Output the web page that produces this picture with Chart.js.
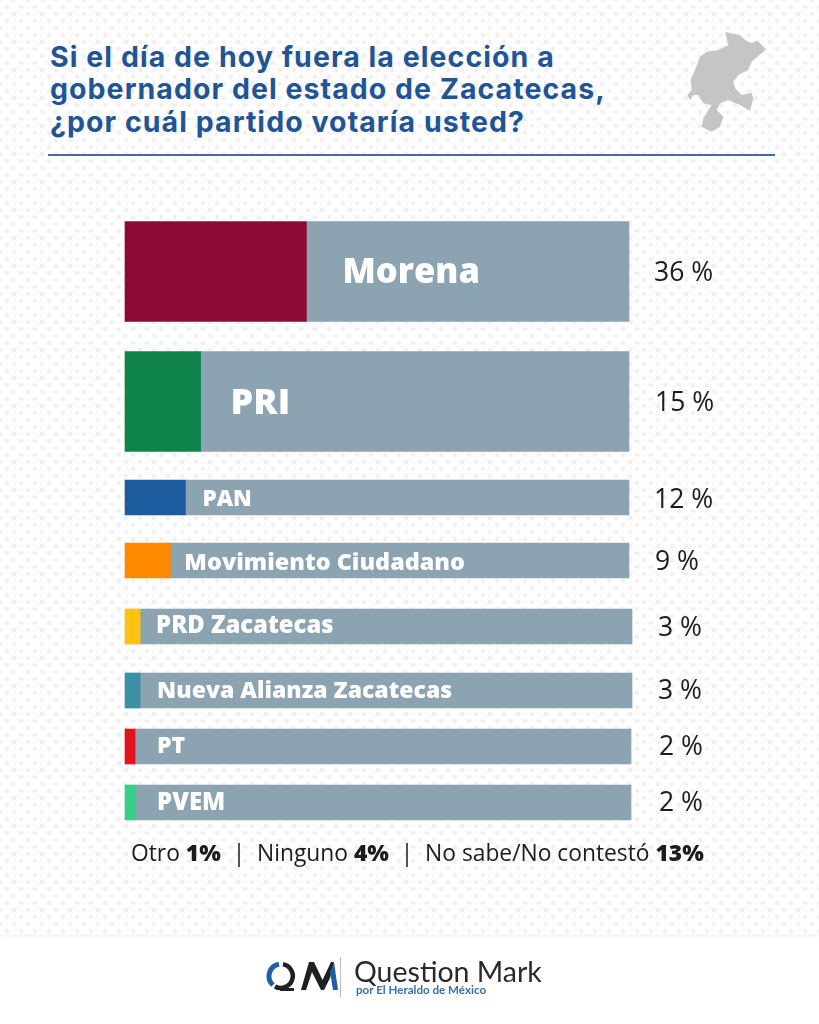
<!DOCTYPE html>
<html lang="es">
<head>
<meta charset="utf-8">
<title>Zacatecas</title>
<script src="https://cdn.jsdelivr.net/npm/chart.js@4"></script>
<style>
  html,body{margin:0;padding:0;background:#fff}
  #page{position:relative;width:819px;height:1024px;overflow:hidden;background:#fff;font-family:"Open Sans",sans-serif}
  #bg{position:absolute;left:0;top:0;width:819px;height:934px;background-color:#fdfdfd;
    background-image:radial-gradient(circle,#f0f0f0 0,#f0f0f0 1.6px,transparent 2.6px),radial-gradient(circle,#f0f0f0 0,#f0f0f0 1.6px,transparent 2.6px);
    background-size:14px 14px;background-position:0 0,7px 7px;box-shadow:0 2px 3px rgba(0,0,0,.05)}
  #title{position:absolute;left:50px;top:41px;margin:0;color:#1f5596;font:700 28.5px/32.3px Inter,sans-serif;letter-spacing:1.05px;white-space:nowrap}
  #rule{position:absolute;left:48px;top:154px;width:727px;height:2px;background:#3f6f9c}
  #map{position:absolute;left:0;top:0}
  #cv{position:absolute;left:0;top:0}
  #others{position:absolute;left:131px;top:840px;color:#1c1c1c;font:400 22.8px/26px "Open Sans",sans-serif;white-space:pre}
  #others b{font-weight:800}
  #logo{position:absolute;left:0;top:0}
  #qm1{position:absolute;left:354px;top:954px;color:#2a2a2e;font:400 28.5px/34px Lato,sans-serif;white-space:nowrap}
  #qm2{position:absolute;left:356px;top:983px;color:#3b6ea8;font:700 11.6px/14px Lato,sans-serif;white-space:nowrap}
</style>
</head>
<body>
<div id="page">
  <div id="bg"></div>
  <h1 id="title">Si el día de hoy fuera la elección a<br>gobernador del estado de Zacatecas,<br>¿por cuál partido votaría usted?</h1>
  <div id="rule"></div>
  <svg id="map" width="819" height="160" viewBox="0 0 819 160">
    <polygon transform="translate(670 20) scale(.3333)" fill="#c3c5c7" points="165,35 190,42 210,45 225,60 245,70 262,62 288,88 262,110 245,125 235,150 205,165 190,185 195,205 215,225 245,218 250,235 240,272 210,255 175,240 150,250 140,270 160,290 150,320 125,335 95,320 100,295 115,270 125,255 100,250 85,225 70,225 60,240 52,225 65,210 62,180 75,150 90,110 110,95 145,90 175,75"/>
  </svg>
  <canvas id="cv" width="819" height="1024"></canvas>
  <div id="others">Otro <b>1%</b>  |  Ninguno <b>4%</b>  |  No sabe/No contestó <b>13%</b></div>
  <svg id="logo" width="819" height="1024" viewBox="0 0 819 1024" style="pointer-events:none">
    <path d="M283 964.2 A12 12 0 1 1 275 986.5" fill="none" stroke="#1f2024" stroke-width="4.5"/>
    <path d="M273 985 A12 12 0 0 1 279 964.2" fill="none" stroke="#1f5fa5" stroke-width="5"/>
    <path d="M280 989.5 L294 989.5" stroke="#1f2024" stroke-width="3"/>
    <path d="M301 990 L309 962 L314 962 L322.5 980 L331 962 L334 962 L330 978 L324 990 L321 990 L312 972 L306 990 Z" fill="#1f2024"/>
    <path d="M330 972 L334 962 L338 990 L333 990 Z" fill="#1f5fa5"/>
    <rect x="340" y="957" width="1" height="40" fill="#b8bcc0"/>
  </svg>
  <div id="qm1">Question Mark</div>
  <div id="qm2">por El Heraldo de México</div>
</div>
<script>
// ---- data ----
const parties = ['Morena','PRI','PAN','Movimiento Ciudadano','PRD Zacatecas','Nueva Alianza Zacatecas','PT','PVEM'];
const shares  = [36,15,12,9,3,3,2,2];
const shareLabels = ['36 %','15 %','12 %','9 %','3 %','3 %','2 %','2 %'];
const trackTotals = [100,100,100,100,100.6,100.6,100.4,100.4];

// ---- styling / layout ----
const partyColors = ['#8c0a33','#0d8249','#1c5c9e','#ff8a00','#fdc214','#3d8fa3','#e3141d','#35cf85'];
const trackColor = '#8ca3b2';
const rowGaps = [130,96,63,66,64,56,56];         // relative distance between neighbouring rows
const tallRows = 2;                              // first rows use thick bars
const labelInset = [36,30,17,14,16,17,22,22];
const labelSize = [34.5,36,22.5,23.4,23.8,23,23,24];
const labelDy = [2,2,2,3,0,1,0,1];
const pctLeft = [654,655,654,655,658,658,659,659];
const pctDy = [2,2,3,2,2,1,1,1];

class RowScale extends Chart.CategoryScale {
  getPixelForValue(value){
    const v = typeof value === 'number' ? value : this.parse(value);
    if (v === null) return NaN;
    const total = rowGaps.reduce((a,b)=>a+b,0);
    let run = 0;
    for (let i=0;i<v;i++) run += rowGaps[i];
    return this.getPixelForDecimal(run/total);
  }
}
RowScale.id = 'rowScale';
RowScale.defaults = Chart.CategoryScale.defaults;
Chart.register(RowScale);

const pick = (arr,tall)=>arr.map((v,i)=>((i<tallRows)===tall ? v : null));
const rest = shares.map((v,i)=>trackTotals[i]-v);

const textPlugin = {
  id:'rowText',
  afterDatasetsDraw(chart){
    const {ctx,scales:{x,y}} = chart;
    ctx.save();
    ctx.textBaseline='middle';
    parties.forEach((name,i)=>{
      const py = y.getPixelForValue(i);
      ctx.fillStyle='#ffffff';
      ctx.font=`800 ${labelSize[i]}px "Open Sans", sans-serif`;
      ctx.textAlign='left';
      ctx.fillText(name, x.getPixelForValue(shares[i])+labelInset[i], py+labelDy[i]);
      ctx.fillStyle='#1c1c1c';
      ctx.font='400 26.5px "Open Sans", sans-serif';
      ctx.fillText(shareLabels[i], pctLeft[i], py+pctDy[i]);
    });
    ctx.restore();
  }
};

new Chart(document.getElementById('cv'),{
  type:'bar',
  data:{
    labels:parties,
    datasets:[
      {label:'Tall share',data:pick(shares,true),backgroundColor:partyColors,barThickness:100,stack:'s',clip:false},
      {label:'Tall rest',data:pick(rest,true),backgroundColor:trackColor,barThickness:100,stack:'s',clip:false},
      {label:'Share',data:pick(shares,false),backgroundColor:partyColors,barThickness:35,stack:'s',clip:false},
      {label:'Rest',data:pick(rest,false),backgroundColor:trackColor,barThickness:35,stack:'s',clip:false}
    ]
  },
  options:{
    indexAxis:'y',
    responsive:false,
    animation:false,
    devicePixelRatio:1,
    layout:{padding:{left:125,right:187,top:271.5,bottom:221.5}},
    plugins:{legend:{display:false},tooltip:{enabled:false},title:{display:false}},
    scales:{
      x:{type:'linear',min:0,max:100.6,stacked:true,display:false},
      y:{type:'rowScale',stacked:true,display:false}
    }
  },
  plugins:[textPlugin]
});
</script>
</body>
</html>
